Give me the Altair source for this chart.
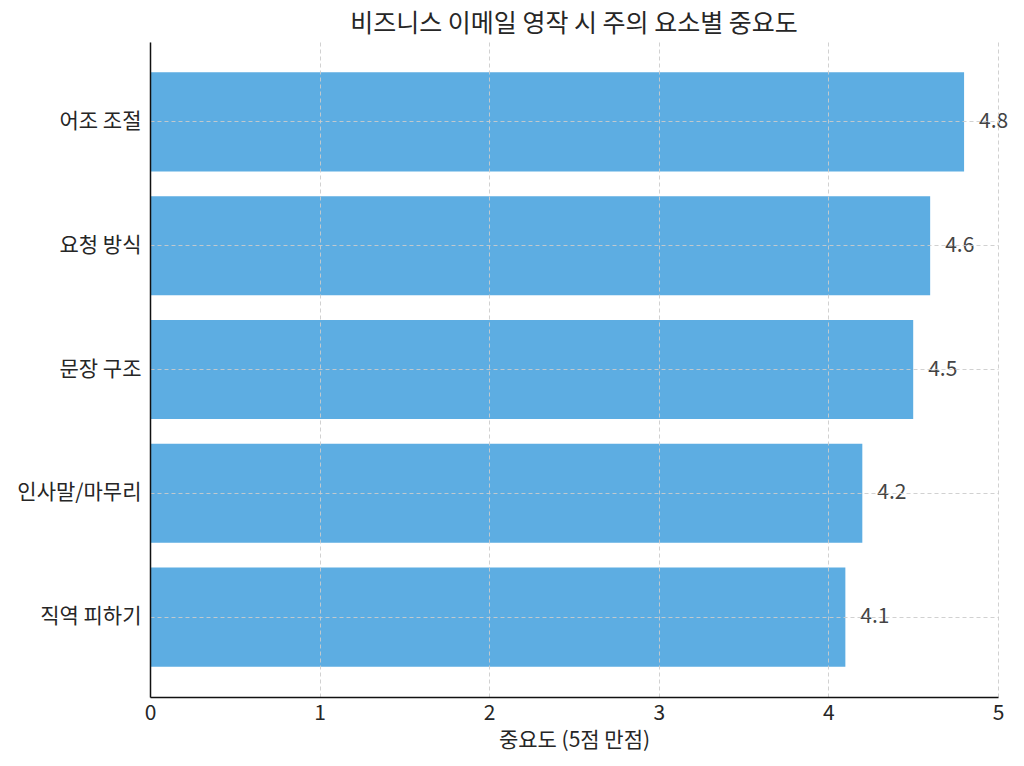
import altair as alt
import pandas as pd

categories = ["어조 조절", "요청 방식", "문장 구조", "인사말/마무리", "직역 피하기"]
values = [4.8, 4.6, 4.5, 4.2, 4.1]
labels = ["4.8", "4.6", "4.5", "4.2", "4.1"]

df = pd.DataFrame({"항목": categories, "중요도": values, "label": labels})

FONT = "Noto Sans CJK KR"

y_enc = alt.Y("항목:N", sort=categories,
              scale=alt.Scale(paddingInner=0.2, paddingOuter=0.245),
              axis=alt.Axis(title=None, bandPosition=0.5, labelFontSize=21,
                            labelColor="#262626", labelFont=FONT, labelPadding=9,
                            ticks=False, domainColor="#111", domainWidth=1.5,
                            grid=True, gridDash=[4, 3], gridColor="#cccccc",
                            gridWidth=0.9, zindex=1))
x_scale = alt.Scale(domain=[0, 5], nice=False)
x_axis = alt.Axis(title="중요도 (5점 만점)", values=[0, 1, 2, 3, 4, 5], format="d",
                  labelFontSize=21, labelColor="#262626", labelFont=FONT, labelPadding=5,
                  labelFlush=False,
                  titleFontSize=21, titleFont=FONT, titleFontWeight="normal",
                  titleColor="#262626", titlePadding=6,
                  ticks=False, domainColor="#111", domainWidth=1.5,
                  grid=True, gridDash=[4, 3], gridColor="#cccccc",
                  gridWidth=0.9, zindex=1)

bars = alt.Chart(df).mark_bar(color="#5DADE2").encode(
    y=y_enc,
    x=alt.X("중요도:Q", scale=x_scale, axis=x_axis),
)

text = alt.Chart(df).mark_text(align="left", dx=15, fontSize=21, font=FONT,
                               color="#444").encode(
    y=alt.Y("항목:N", sort=categories),
    x=alt.X("중요도:Q", scale=x_scale),
    text="label:N",
)

chart = (bars + text).properties(
    width=848,
    height=655,
    title=alt.TitleParams("비즈니스 이메일 영작 시 주의 요소별 중요도", fontSize=25,
                          font=FONT, fontWeight="normal", color="#262626",
                          anchor="middle", offset=5),
    autosize=alt.AutoSizeParams(type="none"),
    padding={"left": 142, "top": 34, "right": 18, "bottom": 60},
).configure_view(stroke=None)

chart.save("out.html", embed_options={"renderer": "svg", "actions": False})
